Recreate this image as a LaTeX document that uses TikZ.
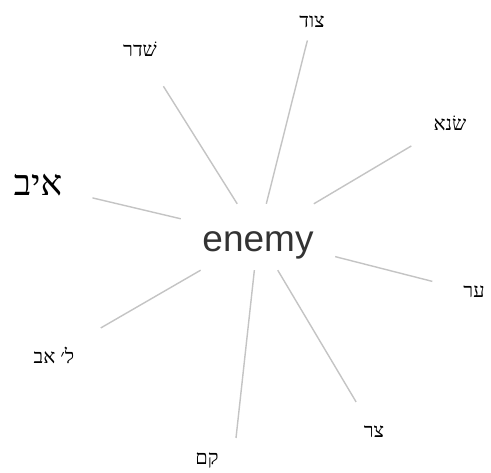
\documentclass[tikz,border=0pt]{standalone}
\usepackage{fontspec}
\setmainfont{Liberation Serif}
\newfontfamily\hebfont[Script=Hebrew]{Liberation Serif}
\newfontfamily\wordfont{Liberation Sans}
\TeXXeTstate=1
\definecolor{linkgray}{HTML}{C4C4C4}
\definecolor{wordgray}{HTML}{333333}
\tikzset{
  link/.style={draw=linkgray, line width=1.4pt},
  hub/.style={rectangle, inner sep=0pt, minimum width=154pt, minimum height=66pt,
    text height=34pt, text depth=4pt, font=\wordfont\fontsize{37}{37}\selectfont,
    text=wordgray},
  lbl/.style={inner sep=0pt, font=\hebfont\fontsize{20}{20}\selectfont, text=black},
  biglbl/.style={lbl, font=\hebfont\fontsize{36}{36}\selectfont}
}
\begin{document}
\begin{tikzpicture}[x=1pt, y=-1pt]
  \useasboundingbox (0,0) rectangle (491,473);
  \fill[white] (0,0) rectangle (491,473);

  % central word
  \node[hub] (enemy) at (258,237) {enemy};

  % surrounding Hebrew words
  \node[lbl] (tsud)  at (312,22)  {\beginR צוד\endR};
  \node[lbl] (shadar) at (140,49) {\beginR שׁדר\endR};
  \node[lbl] (sane)  at (450,123) {\beginR שׂנא\endR};
  \node[biglbl] (oyev) at (38,185) {\beginR איב\endR};
  \node[lbl] (ar)    at (474,292) {\beginR ער\endR};
  \node[lbl] (leav)  at (54,355)  {\beginR ל׳ אב\endR};
  \node[lbl] (tsar)  at (374,432) {\beginR צר\endR};
  \node[lbl] (qam)   at (207,461) {\beginR קם\endR};
  \coordinate (qamtip) at (236,438);

  % spokes
  \draw[link, shorten >=19pt] (enemy) -- (tsud.center);
  \draw[link, shorten >=44pt] (enemy) -- (shadar.center);
  \draw[link, shorten >=45pt] (enemy) -- (sane.center);
  \draw[link, shorten >=56pt] (enemy) -- (oyev.center);
  \draw[link, shorten >=43pt] (enemy) -- (ar.center);
  \draw[link, shorten >=54pt] (enemy) -- (leav.center);
  \draw[link, shorten >=35pt] (enemy) -- (tsar.center);
  \draw[link] (enemy) -- (qamtip);
\end{tikzpicture}
\end{document}
